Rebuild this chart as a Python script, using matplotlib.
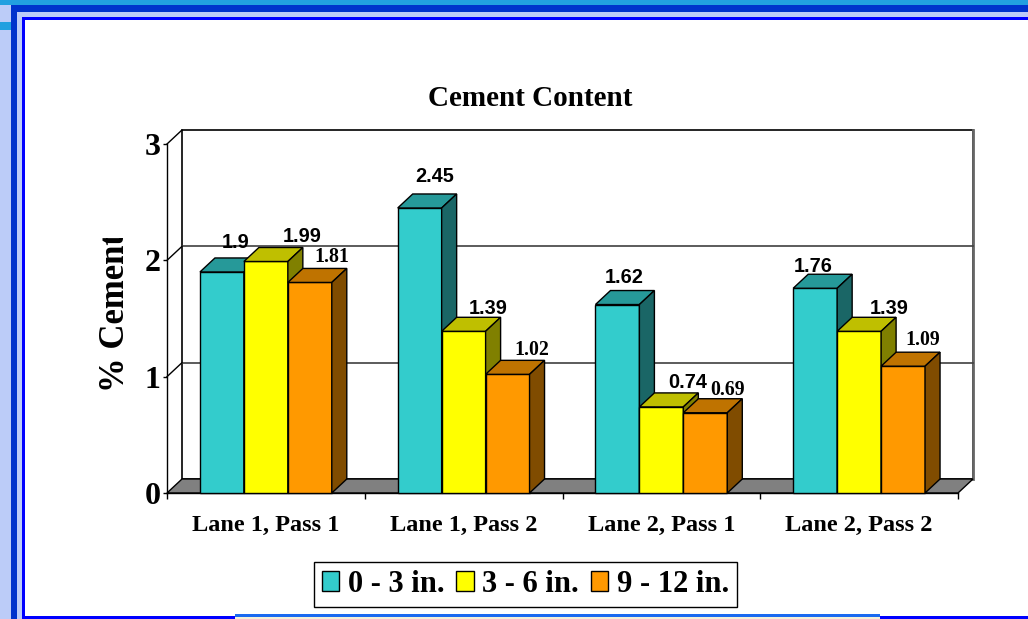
import matplotlib.pyplot as plt
from matplotlib.patches import Rectangle, Polygon
from matplotlib.transforms import Bbox, TransformedBbox

categories = ['Lane 1, Pass 1', 'Lane 1, Pass 2', 'Lane 2, Pass 1', 'Lane 2, Pass 2']
series_names = ['0 - 3 in.', '3 - 6 in.', '9 - 12 in.']
depth_0_3 = [1.9, 2.45, 1.62, 1.76]
depth_3_6 = [1.99, 1.39, 0.74, 1.39]
depth_9_12 = [1.81, 1.02, 0.69, 1.09]
y_ticks = [0, 1, 2, 3]

# label nudges in pixels (right, up) from the top centre of each bar
nudge_0_3 = [(14, 31), (15, 33), (7, 29), (-2, 23)]
nudge_3_6 = [(36, 26), (25, 24), (26, 26), (30, 24)]
nudge_9_12 = [(22, 27), (24, 26), (22, 25), (20, 28)]

# front, top, side colours
colors = [('#33CCCC', '#269999', '#1A6666'),
          ('#FFFF00', '#BFBF00', '#808000'),
          ('#FF9900', '#BF7300', '#804C00')]
label_fonts = ['Liberation Sans', 'Liberation Sans', 'Liberation Serif']

W, H = 1028, 619
fig = plt.figure(figsize=(W / 100, H / 100), dpi=100)
fig.patch.set_facecolor('white')


def band(x0, y0, w, h, color):
    # rectangle in pixels from the top left corner
    fig.patches.append(Rectangle((x0 / W, 1 - (y0 + h) / H), w / W, h / H,
                                 transform=fig.transFigure, facecolor=color,
                                 edgecolor='none', zorder=0))


# slide frame
band(0, 0, W, 5, '#22A0E0')
band(0, 5, 11, H - 5, '#BCCCF8')
band(0, 22, 11, 8, '#22A0E0')
band(11, 5, W - 11, 7, '#0033CC')
band(11, 5, 6, H - 5, '#0033CC')
band(17, 12, W - 17, 5, '#BCCCF8')
band(17, 12, 5, H - 12, '#BCCCF8')
band(22, 17, W - 22, 3, '#0000FF')
band(22, 17, 3, H - 17, '#0000FF')
band(22, 616, 213, 3, '#0000FF')
band(235, 614, 645, 3, '#1A6AF0')
band(235, 617, 645, 2, '#F4F0D8')
band(880, 616, W - 880, 3, '#0000FF')

ax = fig.add_axes([167 / W, 1 - 493 / H, 791 / W, 349 / H])
ax.set_xlim(-0.5, 3.5)
ax.set_ylim(0, 3)
ax.patch.set_visible(False)
for s in ['top', 'right']:
    ax.spines[s].set_visible(False)
for s in ['left', 'bottom']:
    ax.spines[s].set_color('black')
    ax.spines[s].set_linewidth(1)
    ax.spines[s].set_zorder(2)

dx = 15 / 791 * 4
dy = 14 / 349 * 3

# back wall, left wall, floor
ax.add_patch(Rectangle((-0.5 + dx, dy), 4, 3, facecolor='white', edgecolor='black',
                       lw=1.2, clip_on=False, zorder=1))
ax.plot([3.5 + dx, 3.5 + dx], [dy, 3 + dy], color='#666666', lw=2, clip_on=False, zorder=1)
for v in y_ticks[1:]:
    if v < 3:
        ax.plot([-0.5 + dx, 3.5 + dx], [v + dy, v + dy], color='#404040', lw=1.2,
                clip_on=False, zorder=1)
    ax.plot([-0.5, -0.5 + dx], [v, v + dy], color='black', lw=1, clip_on=False, zorder=1)
ax.add_patch(Polygon([(-0.5, 0), (3.5, 0), (3.5 + dx, dy), (-0.5 + dx, dy)],
                     closed=True, facecolor='#808080', edgecolor='black', lw=1,
                     clip_on=False, zorder=1))

series = [depth_0_3, depth_3_6, depth_9_12]
nudges = [nudge_0_3, nudge_3_6, nudge_9_12]
w = 2 / 9
for i in range(len(categories)):
    for j, vals in enumerate(series):
        v = vals[i]
        x0 = i + (j - 1.5) * w
        z = 3 + i * 3 + j
        front, top, side = colors[j]
        ax.add_patch(Rectangle((x0, 0), w, v, facecolor=front, edgecolor='black',
                               lw=1, clip_on=False, zorder=z))
        ax.add_patch(Polygon([(x0, v), (x0 + w, v), (x0 + w + dx, v + dy), (x0 + dx, v + dy)],
                             closed=True, facecolor=top, edgecolor='black', lw=1,
                             clip_on=False, zorder=z))
        ax.add_patch(Polygon([(x0 + w, 0), (x0 + w + dx, dy), (x0 + w + dx, v + dy), (x0 + w, v)],
                             closed=True, facecolor=side, edgecolor='black', lw=1,
                             clip_on=False, zorder=z))
        nx, ny = nudges[j][i]
        ax.annotate(f'{v:g}', xy=(x0 + w / 2, v), xytext=(nx, ny - 7),
                    textcoords='offset pixels', ha='center', va='baseline',
                    fontsize=14.3, fontweight='bold', family=label_fonts[j], zorder=30)

# ticks
ax.set_xticks([-0.5, 0.5, 1.5, 2.5, 3.5])
ax.set_xticklabels([])
ax.set_xticks([0, 1, 2, 3], minor=True)
ax.set_xticklabels(categories, minor=True, fontsize=17.5, fontweight='bold',
                   family='Liberation Serif')
ax.tick_params(axis='x', which='major', direction='out', length=4.5, width=1, color='black')
ax.tick_params(axis='x', which='minor', length=0, pad=15.5)
ax.set_yticks(y_ticks)
ax.set_yticklabels([str(t) for t in y_ticks], fontsize=23, fontweight='bold',
                   family='Liberation Serif')
ax.tick_params(axis='y', direction='out', length=3, width=1, pad=1.5, color='black')

fig.text(530 / W, 1 - 98 / H, 'Cement Content', ha='center', va='center',
         fontsize=21, fontweight='bold', family='Liberation Serif')

# the axis title is cut off at the top in the original
ylab = fig.text(115 / W, 1 - 313 / H, '% Cement', ha='center', va='center', rotation=90,
                fontsize=25, fontweight='bold', family='Liberation Serif')
ylab.set_clip_box(TransformedBbox(Bbox([[0, 0], [1, 1 - 238 / H]]), fig.transFigure))
ylab.set_clip_on(True)

handles = [Rectangle((0, 0), 1, 1, facecolor=c[0], edgecolor='black', lw=1) for c in colors]
leg = fig.legend(handles, series_names, loc='center', ncol=3,
                 bbox_to_anchor=(525.5 / W, 1 - 584.5 / H),
                 prop={'family': 'Liberation Serif', 'weight': 'bold', 'size': 22},
                 frameon=True, fancybox=False, edgecolor='black', framealpha=1,
                 handlelength=0.56, handleheight=0.62, handletextpad=0.28,
                 columnspacing=0.4, borderpad=0.25, borderaxespad=0)
leg.get_frame().set_linewidth(1)

fig.savefig('out.png', dpi=100)
